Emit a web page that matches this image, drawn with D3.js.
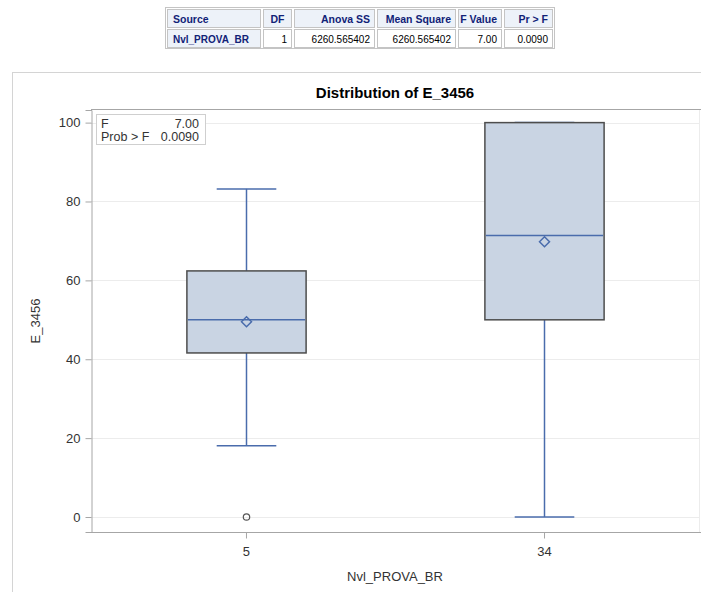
<!DOCTYPE html>
<html>
<head>
<meta charset="utf-8">
<script src="https://cdn.jsdelivr.net/npm/d3@7.9.0/dist/d3.min.js"></script>
<style>
  body { margin: 0; background: #fff; }
  svg { display: block; font-family: "Liberation Sans", Arial, sans-serif; }
</style>
</head>
<body>
<svg id="chart" width="701" height="592"></svg>
<script>
// ANOVA table
const tableHeaders = ['Source', 'DF', 'Anova SS', 'Mean Square', 'F Value', 'Pr > F'];
const tableRow = ['Nvl_PROVA_BR', '1', '6260.565402', '6260.565402', '7.00', '0.0090'];
const colWidths = [96, 31, 83, 81, 46, 51];

// box plot summary per group
const categories = ['5', '34'];
const q1 = [41.6, 50];
const median = [50, 71.4];
const q3 = [62.4, 100];
const mean = [49.5, 69.8];
const whiskerLow = [18.1, 0];
const whiskerHigh = [83.2, 100];
const outliers = [[0], []];
const yTicks = [0, 20, 40, 60, 80, 100];

const fStat = '7.00';
const probF = '0.0090';

const svg = d3.select('#chart');

// --- table ---
const tx0 = 166, ty0 = 8, rowH = 19;
const colX = d3.cumsum([0, ...colWidths]).map(v => tx0 + v);
const tableW = d3.sum(colWidths);
svg.append('rect')
  .attr('x', tx0 - 0.5).attr('y', ty0 - 0.5)
  .attr('width', tableW + 1).attr('height', rowH * 2 + 3)
  .attr('fill', '#fff').attr('stroke', '#c4c4c4');

function drawRow(cells, r) {
  const y = ty0 + 1 + r * (rowH + 1);
  cells.forEach((txt, i) => {
    const x = colX[i] + 1;
    const w = colWidths[i] - 2;
    const isHead = r === 0 || i === 0;
    svg.append('rect')
      .attr('x', x + 0.5).attr('y', y + 0.5)
      .attr('width', w - 1).attr('height', rowH - 1)
      .attr('fill', isHead ? '#edf2f9' : '#fff')
      .attr('stroke', '#c4c4c4');
    const left = i === 0;
    const mid = r === 0 && i === 1;
    svg.append('text')
      .attr('x', left ? x + 6 : mid ? x + w / 2 : x + w - 5)
      .attr('y', y + 13.5)
      .attr('text-anchor', left ? 'start' : mid ? 'middle' : 'end')
      .attr('font-size', r === 0 ? 10.5 : 10)
      .attr('font-weight', isHead ? 'bold' : 'normal')
      .attr('fill', isHead ? '#112277' : '#000')
      .text(txt);
  });
}
drawRow(tableHeaders, 0);
drawRow(tableRow, 1);

// --- graph frame ---
svg.append('rect')
  .attr('x', 12.5).attr('y', 72.5)
  .attr('width', 760).attr('height', 560)
  .attr('fill', 'none').attr('stroke', '#d4d4d4');

const plot = { left: 91, right: 699, top: 110, bottom: 532 };

const y = d3.scaleLinear().domain([-3.8, 103.2]).range([plot.bottom, plot.top]);
const x = d3.scalePoint().domain(categories).range([plot.left, plot.right]).padding(0.52);
const step = x.step();
const boxW = step * 0.4;
const capW = boxW / 2;

svg.append('text')
  .attr('x', (plot.left + plot.right) / 2)
  .attr('y', 98)
  .attr('text-anchor', 'middle')
  .attr('font-size', 15)
  .attr('font-weight', 'bold')
  .attr('fill', '#000')
  .text('Distribution of E_3456');

// gridlines
svg.append('g').selectAll('line').data(yTicks).join('line')
  .attr('x1', plot.left).attr('x2', plot.right)
  .attr('y1', d => Math.round(y(d)) + 0.5).attr('y2', d => Math.round(y(d)) + 0.5)
  .attr('stroke', '#ececec');

// plot border
svg.append('line')
  .attr('x1', plot.right + 0.5).attr('x2', plot.right + 0.5)
  .attr('y1', plot.top).attr('y2', plot.bottom)
  .attr('stroke', '#ececec');
svg.append('line')
  .attr('x1', plot.left).attr('x2', 701)
  .attr('y1', plot.top - 0.5).attr('y2', plot.top - 0.5)
  .attr('stroke', '#a6a6a6');

// axes
const yAxis = svg.append('g')
  .attr('transform', `translate(${plot.left + 0.5},0)`)
  .call(d3.axisLeft(y).tickValues(yTicks).tickSize(6).tickPadding(5));
const xAxis = svg.append('g')
  .attr('transform', `translate(0,${plot.bottom + 0.5})`)
  .call(d3.axisBottom(x).tickSize(6).tickPadding(8));
xAxis.select('.domain').attr('d', `M${plot.left},0H701`);
[yAxis, xAxis].forEach(g => {
  g.select('.domain').attr('stroke', '#a6a6a6');
  g.selectAll('.tick line').attr('stroke', '#a6a6a6');
  g.selectAll('.tick text').attr('fill', '#333').attr('font-size', 13)
    .attr('font-family', '"Liberation Sans", Arial, sans-serif');
});

svg.append('text')
  .attr('transform', `translate(40,${(plot.top + plot.bottom) / 2}) rotate(-90)`)
  .attr('text-anchor', 'middle')
  .attr('font-size', 13)
  .attr('fill', '#333')
  .text('E_3456');
svg.append('text')
  .attr('x', (plot.left + plot.right) / 2)
  .attr('y', 581)
  .attr('text-anchor', 'middle')
  .attr('font-size', 13)
  .attr('fill', '#333')
  .text('Nvl_PROVA_BR');

// --- boxes ---
const blue = '#4a6cac';
const groups = categories.map((c, i) => ({
  c, q1: q1[i], med: median[i], q3: q3[i], mean: mean[i],
  lo: whiskerLow[i], hi: whiskerHigh[i], out: outliers[i]
}));

const g = svg.append('g');
groups.forEach(d => {
  const cx = Math.round(x(d.c)) + 0.5;
  // whiskers
  g.append('line').attr('x1', cx).attr('x2', cx)
    .attr('y1', y(d.q1)).attr('y2', y(d.lo)).attr('stroke', blue).attr('stroke-width', 1.5);
  g.append('line').attr('x1', cx).attr('x2', cx)
    .attr('y1', y(d.q3)).attr('y2', y(d.hi)).attr('stroke', blue).attr('stroke-width', 1.5);
  [d.lo, d.hi].forEach(v => {
    g.append('line').attr('x1', cx - capW / 2).attr('x2', cx + capW / 2)
      .attr('y1', y(v)).attr('y2', y(v)).attr('stroke', blue).attr('stroke-width', 1.5);
  });
  // box
  g.append('rect')
    .attr('x', cx - boxW / 2).attr('y', y(d.q3))
    .attr('width', boxW).attr('height', y(d.q1) - y(d.q3))
    .attr('fill', '#c9d4e3').attr('stroke', '#4d4d4d').attr('stroke-width', 1.5);
  // median
  g.append('line').attr('x1', cx - boxW / 2 + 1).attr('x2', cx + boxW / 2 - 1)
    .attr('y1', y(d.med)).attr('y2', y(d.med)).attr('stroke', blue).attr('stroke-width', 1.5);
  // mean diamond
  const my = y(d.mean), r = 5;
  g.append('path')
    .attr('d', `M${cx},${my - r}L${cx + r},${my}L${cx},${my + r}L${cx - r},${my}Z`)
    .attr('fill', 'none').attr('stroke', blue).attr('stroke-width', 1.5);
  // outliers
  d.out.forEach(v => {
    g.append('circle').attr('cx', cx).attr('cy', y(v)).attr('r', 3.2)
      .attr('fill', 'none').attr('stroke', '#555').attr('stroke-width', 1.2);
  });
});

// --- inset F box ---
const inset = svg.append('g');
inset.append('rect')
  .attr('x', 96.5).attr('y', 114.5).attr('width', 109).attr('height', 30)
  .attr('fill', '#fff').attr('stroke', '#cfcfcf');
inset.append('text').attr('x', 101).attr('y', 128).attr('font-size', 12.5).attr('fill', '#333').text('F');
inset.append('text').attr('x', 199).attr('y', 128).attr('font-size', 12.5).attr('fill', '#333')
  .attr('text-anchor', 'end').text(fStat);
inset.append('text').attr('x', 101).attr('y', 141).attr('font-size', 12.5).attr('fill', '#333').text('Prob > F');
inset.append('text').attr('x', 199).attr('y', 141).attr('font-size', 12.5).attr('fill', '#333')
  .attr('text-anchor', 'end').text(probF);
</script>
</body>
</html>
